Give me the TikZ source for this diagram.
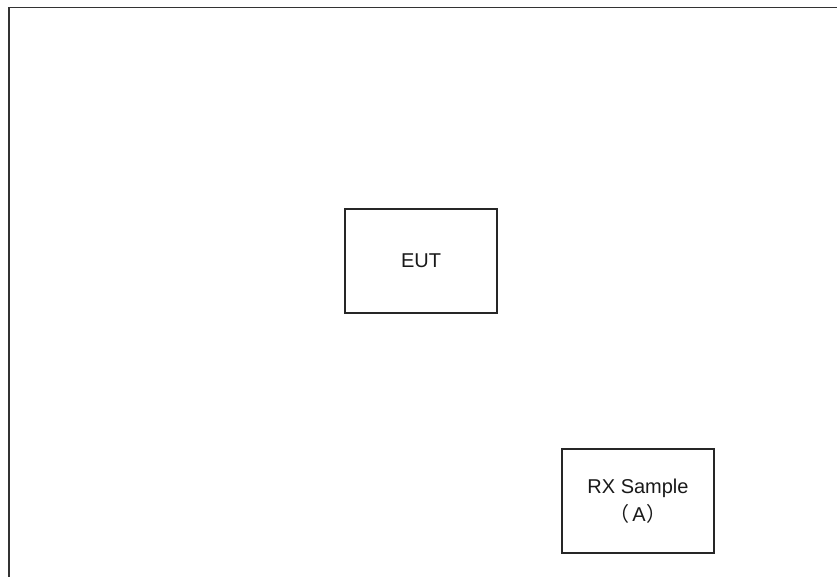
\documentclass[tikz,border=0pt]{standalone}
\usepackage{fontspec}
\setmainfont{Liberation Sans}
\newfontfamily\cjk{Noto Sans CJK SC}
\begin{document}
\begin{tikzpicture}[x=1pt,y=1pt,
  box/.style={draw=black!85, line width=1.2pt, minimum width=152pt, minimum height=104pt, inner sep=0pt, align=center, font=\fontsize{20}{28}\selectfont, text=black!90}]
\useasboundingbox (0,0) rectangle (837,577);
% open frame: left and top edges
\draw[black!80, line width=1.4pt] (9,0) -- (9,569.5) -- (837,569.5);
\node[box] (eut) at (421,316) {EUT};
\node[box] (rx) at (638,76) {RX Sample\\{\cjk （}\hspace{3pt}A\hspace{1pt}{\cjk ）}};
\end{tikzpicture}
\end{document}
